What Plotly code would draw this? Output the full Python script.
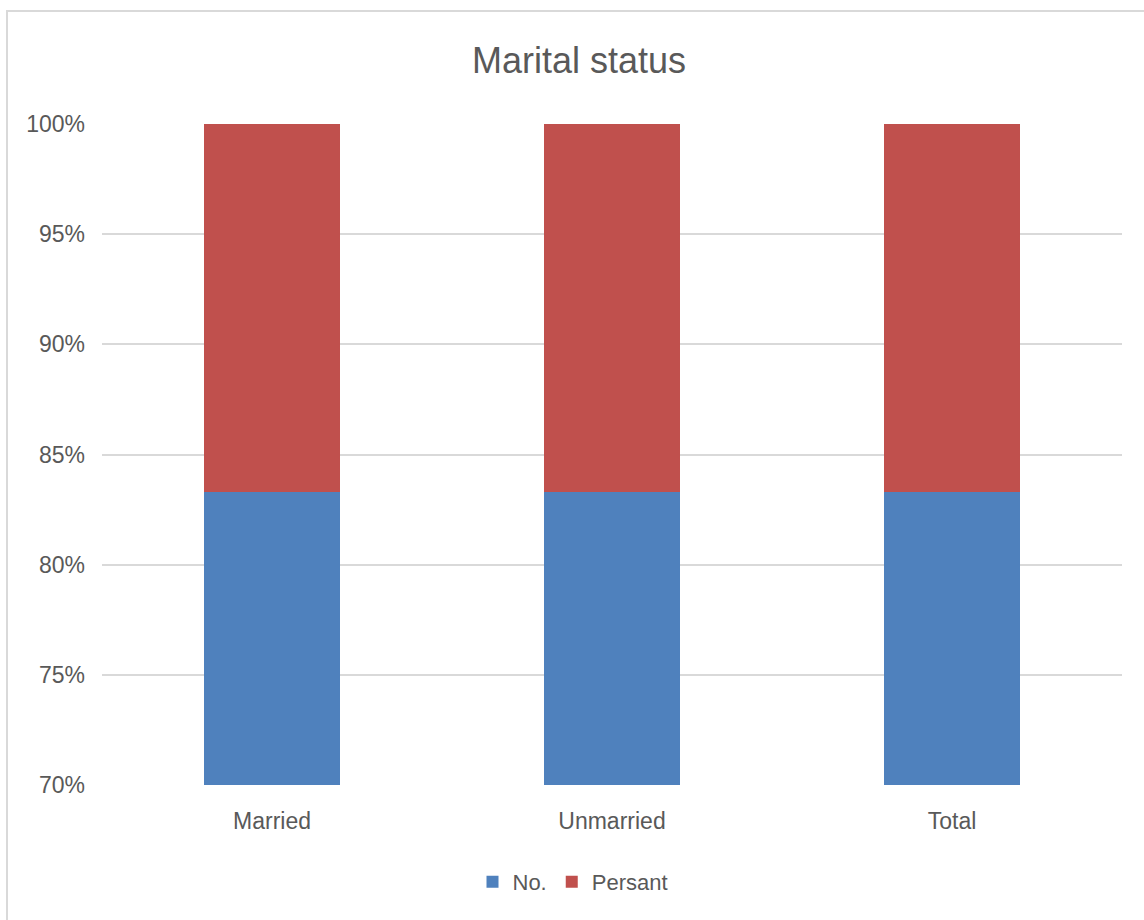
import plotly.graph_objects as go

# Marital status: share of each group (percent of group total)
categories = ["Married", "Unmarried", "Total"]
no_share = [83.3, 83.3, 83.3]
persant_share = [16.7, 16.7, 16.7]
y_ticks = [70, 75, 80, 85, 90, 95, 100]

BLUE = "#4f81bd"
RED = "#c0504d"
TEXT = "#595959"
GRID = "#d9d9d9"

fig = go.Figure()
fig.add_bar(name="No.", x=categories, y=no_share, marker=dict(color=BLUE, line=dict(width=0)))
fig.add_bar(name="Persant", x=categories, y=persant_share, marker=dict(color=RED, line=dict(width=0)))

# plot area spans x 102..1122 px and y 124..785 px
L, R, T, B = 102, 22, 124, 135
W, H = 1144, 920
pw, ph = W - L - R, H - T - B

fig.update_layout(
    barmode="stack",
    bargap=0.6,
    width=W,
    height=H,
    margin=dict(l=L, r=R, t=T, b=B),
    paper_bgcolor="white",
    plot_bgcolor="white",
    font=dict(family="Liberation Sans, Arial, sans-serif", color=TEXT, size=23),
    title=dict(text="Marital status", x=579 / W, xref="container", xanchor="center",
               y=1 - 60 / H, yref="container", yanchor="middle",
               font=dict(size=36, color=TEXT)),
    showlegend=True,
    legend=dict(orientation="h", x=(573 - L) / pw, xanchor="center",
                y=(785 - 882) / ph, yanchor="middle",
                font=dict(size=22, color=TEXT), itemwidth=30, traceorder="normal"),
    xaxis=dict(showgrid=False, showline=False, ticks="", ticklabelstandoff=20,
               tickfont=dict(size=23, color=TEXT)),
    yaxis=dict(range=[70, 100], tickvals=y_ticks, ticktext=[f"{v}%" for v in y_ticks],
               showgrid=True, gridcolor=GRID, gridwidth=1.5, zeroline=False,
               showline=False, ticks="", ticklen=0, ticklabelstandoff=16,
               tickfont=dict(size=23, color=TEXT)),
)

# outer chart frame
fig.add_shape(type="rect", xref="paper", yref="paper",
              x0=(7 - L) / pw, x1=(1150 - L) / pw,
              y0=(785 - 925) / ph, y1=(785 - 11) / ph,
              line=dict(color="#d9d9d9", width=2), fillcolor="rgba(0,0,0,0)", layer="below")

fig.write_html("out.html")
